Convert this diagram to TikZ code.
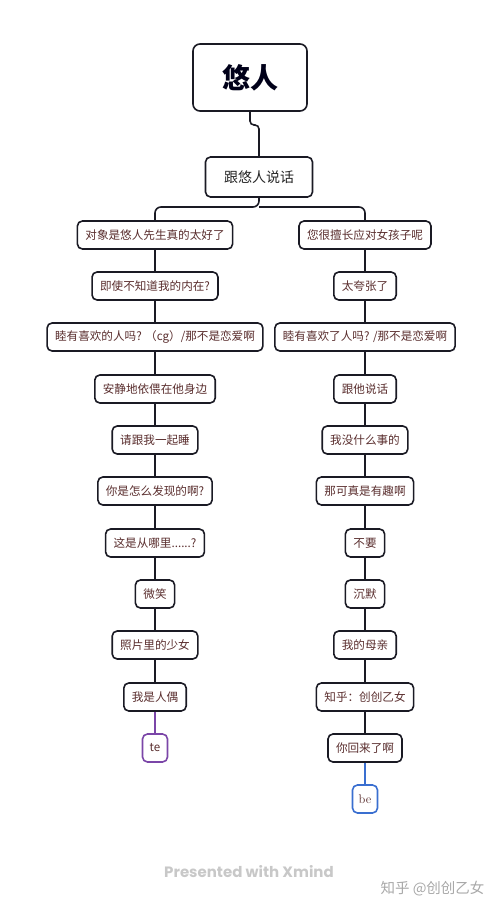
\documentclass[tikz,border=0pt]{standalone}
\usepackage{fontspec}
\newfontfamily\cjk{Noto Sans CJK SC}
\newfontfamily\popp{Poppins}
\usetikzlibrary{positioning}
\definecolor{txt}{HTML}{5A2E2E}
\definecolor{edgec}{HTML}{1A1A24}
\definecolor{tecol}{HTML}{7B46A8}
\definecolor{becol}{HTML}{3A6FD0}
\definecolor{foot}{HTML}{C8C8C8}
\definecolor{wm}{HTML}{A8A8A8}
\tikzset{
  box/.style={draw=edgec, line width=1.6pt, rounded corners=5pt, fill=white,
    inner xsep=8pt, inner ysep=0pt, minimum height=28pt, text=txt,
    font=\cjk\fontsize{11.6}{13}\selectfont},
  rootbox/.style={draw=edgec, line width=1.6pt, rounded corners=7pt, fill=white,
    minimum width=114pt, minimum height=67pt, text=black!90!blue,
    font=\cjk\bfseries\fontsize{28}{30}\selectfont},
  conn/.style={draw=edgec, line width=1.6pt},
  endbox/.style={box, minimum width=25pt, inner xsep=4pt}
}
\begin{document}
\begin{tikzpicture}[x=1pt,y=-1pt]
\useasboundingbox (0,0) rectangle (500,910);
\node[rootbox] (root) at (250,77.5) {悠人};
\node[box, minimum width=107pt, minimum height=40pt, font=\cjk\fontsize{14}{16}\selectfont, text=black!85] (sub) at (259,177) {跟悠人说话};
% left column
\node[box] (l1) at (155,235) {对象是悠人先生真的太好了};
\node[box] (l2) at (155,286) {即使不知道我的内在?};
\node[box] (l3) at (155,337) {睦有喜欢的人吗? （cg）/那不是恋爱啊};
\node[box] (l4) at (155,389) {安静地依偎在他身边};
\node[box] (l5) at (155,440) {请跟我一起睡};
\node[box] (l6) at (155,491) {你是怎么发现的啊?};
\node[box] (l7) at (155,543) {这是从哪里......?};
\node[box] (l8) at (155,594) {微笑};
\node[box] (l9) at (155,645) {照片里的少女};
\node[box] (l10) at (155,697) {我是人偶};
\node[endbox, draw=tecol] (te) at (155,748) {te};
% right column
\node[box] (r1) at (365,235) {您很擅长应对女孩子呢};
\node[box] (r2) at (365,286) {太夸张了};
\node[box] (r3) at (365,337) {睦有喜欢了人吗? /那不是恋爱啊};
\node[box] (r4) at (365,389) {跟他说话};
\node[box] (r5) at (365,440) {我没什么事的};
\node[box] (r6) at (365,491) {那可真是有趣啊};
\node[box] (r7) at (365,543) {不要};
\node[box] (r8) at (365,594) {沉默};
\node[box] (r9) at (365,645) {我的母亲};
\node[box] (r10) at (365,697) {知乎：创创乙女};
\node[box] (r11) at (365,748) {你回来了啊};
\node[endbox, draw=becol, font=\fontsize{12.5}{14}\selectfont] (be) at (365,799) {be};
% connectors
\coordinate (j1) at (250,125);
\coordinate (j2) at (259,125);
\coordinate (br) at (259,207);
\begin{scope}[on background layer/.try]
\draw[conn, rounded corners=4pt] (root.south) -- (j1) -- (j2) -- (sub.north);
\draw[conn, rounded corners=6pt] (sub.south) -- (br) -| (l1.north);
\draw[conn, rounded corners=6pt] (br) -| (r1.north);
\foreach \a/\b in {l1/l2,l2/l3,l3/l4,l4/l5,l5/l6,l6/l7,l7/l8,l8/l9,l9/l10,
                   r1/r2,r2/r3,r3/r4,r4/r5,r5/r6,r6/r7,r7/r8,r8/r9,r9/r10,r10/r11}
  \draw[conn] (\a.south) -- (\b.north);
\draw[draw=tecol, line width=1.6pt] (l10.south) -- (te.north);
\draw[draw=becol, line width=1.6pt] (r11.south) -- (be.north);
\end{scope}
% footer
\node[text=foot, font=\popp\bfseries\fontsize{15}{17}\selectfont] (pw) at (249,872) {Presented with Xmind};
\node[text=wm, font=\cjk\fontsize{14.5}{16}\selectfont, anchor=east] (wmk) at (488,889) {知乎 @创创乙女};
\end{tikzpicture}
\end{document}
